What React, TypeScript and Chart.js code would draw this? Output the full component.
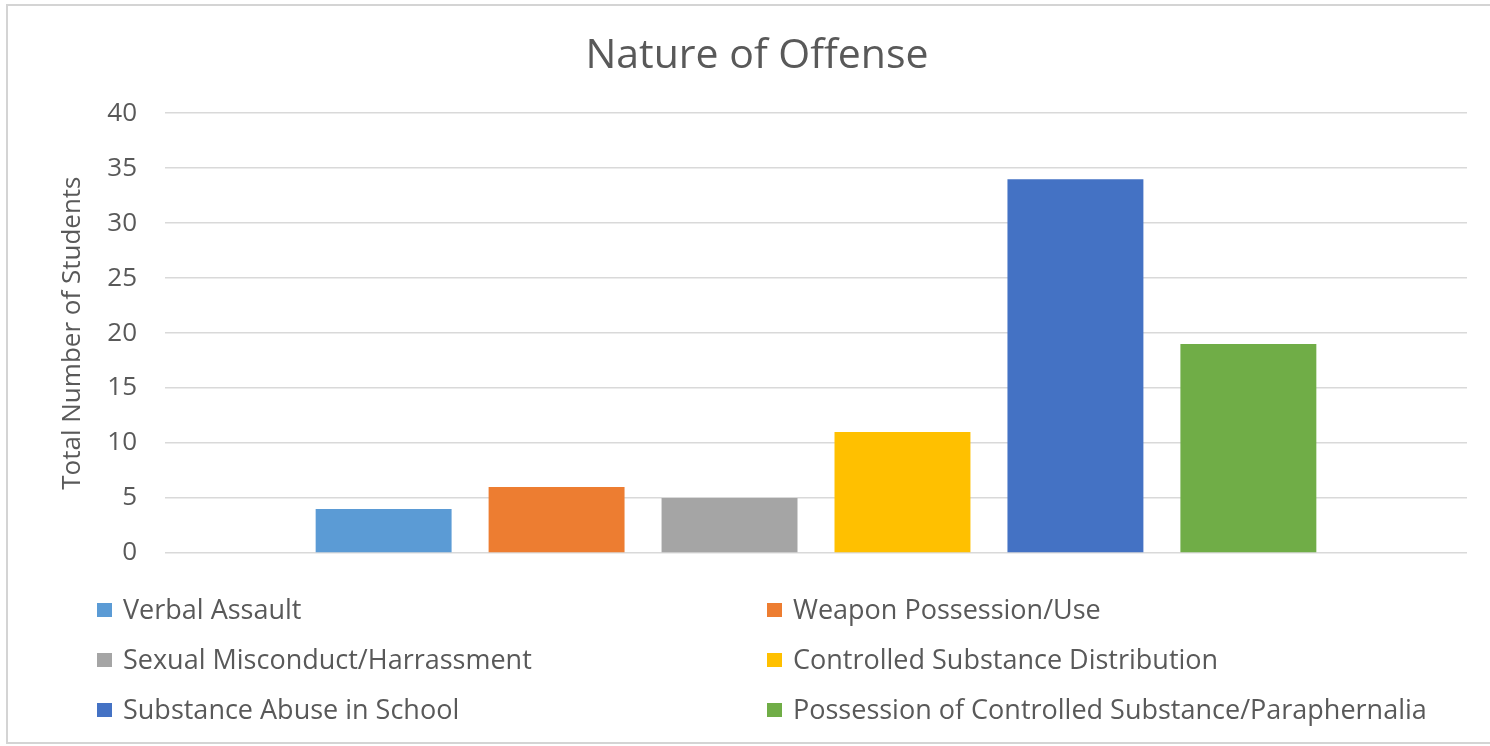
import React, { useEffect, useRef } from "react";
import { Chart, registerables } from "chart.js";

Chart.register(...registerables);

// Chart data
const categories = [""];
const seriesNames = [
  "Verbal Assault",
  "Weapon Possession/Use",
  "Sexual Misconduct/Harrassment",
  "Controlled Substance Distribution",
  "Substance Abuse in School",
  "Possession of Controlled Substance/Paraphernalia",
];
const seriesValues = [4, 6, 5, 11, 34, 19];
const seriesColors = ["#5B9BD5", "#ED7D31", "#A5A5A5", "#FFC000", "#4472C4", "#70AD47"];
const yTicks = [0, 5, 10, 15, 20, 25, 30, 35, 40];

const FONT = "'Open Sans', 'Noto Sans', sans-serif";
const TEXT = "#595959";
const GRID = "#d9d9d9";

// White background with a thin frame around the chart
const framePlugin = {
  id: "frame",
  beforeDraw(chart: any) {
    const { ctx, width, height } = chart;
    ctx.save();
    ctx.fillStyle = "#ffffff";
    ctx.fillRect(0, 0, width, height);
    ctx.strokeStyle = "#d4d4d4";
    ctx.lineWidth = 2;
    ctx.strokeRect(7, 5, width + 10, height - 8);
    ctx.restore();
  },
};

// Legend laid out in two columns under the plot
const twoColumnLegend = {
  id: "twoColumnLegend",
  afterDraw(chart: any) {
    const { ctx, chartArea } = chart;
    const cols = [97, 767];
    const top = chartArea.bottom + 57;
    const rowGap = 50;
    ctx.save();
    ctx.font = `27px ${FONT}`;
    ctx.textBaseline = "middle";
    ctx.textAlign = "left";
    chart.data.datasets.forEach((ds: any, i: number) => {
      const x = cols[i % 2];
      const y = top + Math.floor(i / 2) * rowGap;
      ctx.fillStyle = ds.backgroundColor;
      ctx.fillRect(x, y - 7, 15, 14);
      ctx.fillStyle = TEXT;
      ctx.fillText(ds.label, x + 26, y + 1);
    });
    ctx.restore();
  },
};

export default function App() {
  const canvasRef = useRef<HTMLCanvasElement | null>(null);

  useEffect(() => {
    if (!canvasRef.current) return;
    const chart = new Chart(canvasRef.current, {
      type: "bar",
      data: {
        labels: categories,
        datasets: seriesNames.map((name, i) => ({
          label: name,
          data: [seriesValues[i]],
          backgroundColor: seriesColors[i],
          borderWidth: 0,
          categoryPercentage: 0.797,
          barPercentage: 0.786,
        })),
      },
      options: {
        animation: false,
        responsive: true,
        maintainAspectRatio: false,
        layout: { padding: { left: 47, right: 23, top: 0, bottom: 193 } },
        plugins: {
          legend: { display: false },
          tooltip: { enabled: false },
          title: {
            display: true,
            text: "Nature of Offense",
            color: TEXT,
            font: { family: FONT, size: 41, weight: "normal" },
            padding: { top: 32, bottom: 32 },
          },
        },
        scales: {
          x: { display: false },
          y: {
            min: yTicks[0],
            max: yTicks[yTicks.length - 1],
            afterFit(scale: any) {
              scale.width = 118;
            },
            ticks: {
              stepSize: yTicks[1] - yTicks[0],
              color: TEXT,
              padding: 28,
              font: { family: FONT, size: 26 },
            },
            grid: { color: GRID, lineWidth: 1.5, drawTicks: false },
            border: { display: false },
            title: {
              display: true,
              text: "Total Number of Students",
              color: TEXT,
              font: { family: FONT, size: 26 },
              padding: { top: 10, bottom: 0 },
            },
          },
        },
      },
      plugins: [framePlugin, twoColumnLegend],
    });
    return () => chart.destroy();
  }, []);

  return (
    <div style={{ position: "fixed", left: 0, top: 0, width: 1490, height: 746 }}>
      <canvas ref={canvasRef} />
    </div>
  );
}
